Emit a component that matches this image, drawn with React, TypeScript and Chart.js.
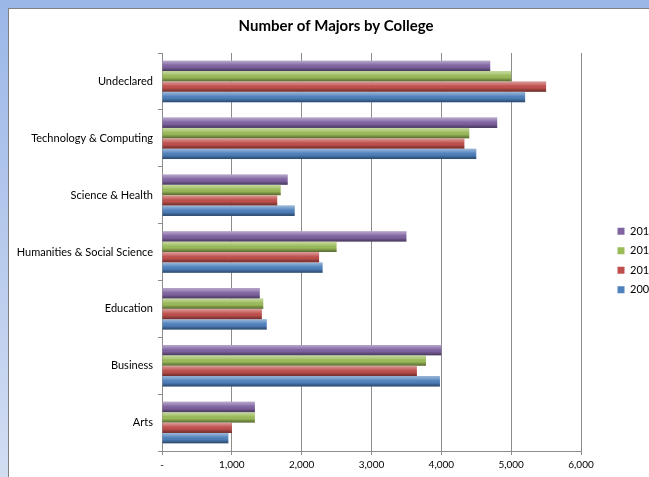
import React, { useEffect, useRef } from "react";
import { Chart, registerables } from "chart.js";

Chart.register(...registerables);

const colleges = [
  "Undeclared",
  "Technology & Computing",
  "Science & Health",
  "Humanities & Social Science",
  "Education",
  "Business",
  "Arts",
];
const years = ["2012", "2011", "2010", "2009"];
const majors2012 = [4700, 4800, 1800, 3500, 1400, 4000, 1330];
const majors2011 = [5000, 4400, 1700, 2500, 1450, 3780, 1330];
const majors2010 = [5500, 4330, 1650, 2250, 1430, 3650, 1000];
const majors2009 = [5200, 4500, 1900, 2300, 1500, 3980, 950];
const seriesColors = ["#8064A2", "#9BBB59", "#C0504D", "#4F81BD"];
const xTicksMax = 6000;
const xTickStep = 1000;

const FONT = "Lato, 'Liberation Sans', sans-serif";

const shadePlugin = {
  id: "barShade",
  afterDatasetsDraw(chart: any) {
    const ctx = chart.ctx;
    chart.data.datasets.forEach((_: any, di: number) => {
      const meta = chart.getDatasetMeta(di);
      if (meta.hidden) return;
      meta.data.forEach((el: any) => {
        const { x, y, base, height } = el.getProps(["x", "y", "base", "height"], true);
        const top = y - height / 2;
        const g = ctx.createLinearGradient(0, top, 0, top + height);
        g.addColorStop(0, "rgba(255,255,255,0.45)");
        g.addColorStop(0.35, "rgba(255,255,255,0.12)");
        g.addColorStop(0.6, "rgba(0,0,0,0)");
        g.addColorStop(1, "rgba(0,0,0,0.45)");
        ctx.save();
        ctx.fillStyle = g;
        ctx.fillRect(Math.min(base, x), top, Math.abs(x - base), height);
        ctx.restore();
      });
    });
  },
};

export default function App() {
  const ref = useRef<HTMLCanvasElement>(null);

  useEffect(() => {
    if (!ref.current) return;
    const values = [majors2012, majors2011, majors2010, majors2009];
    const chart = new Chart(ref.current, {
      type: "bar",
      data: {
        labels: colleges,
        datasets: years.map((yr, i) => ({
          label: yr,
          data: values[i],
          xAxisID: "x",
          yAxisID: "y",
          backgroundColor: seriesColors[i],
          borderWidth: 0,
          barPercentage: 1,
          categoryPercentage: 0.73,
        })),
      },
      options: {
        indexAxis: "y",
        responsive: false,
        animation: false,
        layout: { padding: { top: 0, left: 0, right: 0, bottom: 0 } },
        plugins: {
          title: {
            display: true,
            text: "Number of Majors by College",
            color: "#000",
            font: { family: FONT, size: 15, weight: "bold" },
            padding: { top: 8, bottom: 18 },
          },
          legend: {
            position: "right",
            maxWidth: 54,
            title: {
              display: true,
              text: " ",
              font: { family: FONT, size: 10 },
              padding: { top: 11.5, bottom: 11.5 },
            },
            labels: {
              boxWidth: 7,
              boxHeight: 7,
              padding: 8.5,
              color: "#000",
              font: { family: FONT, size: 11 },
            },
          },
          tooltip: { enabled: false },
        },
        scales: {
          x: {
            min: 0,
            max: xTicksMax,
            ticks: {
              stepSize: xTickStep,
              color: "#000",
              padding: 4,
              font: { family: FONT, size: 10 },
              callback: (v: any) => (Number(v) === 0 ? "-" : Number(v).toLocaleString("en-US")),
            },
            grid: { color: "#8c8c8c", tickLength: 4, tickColor: "#8c8c8c" },
            border: { color: "#8c8c8c" },
            afterFit: (scale: any) => {
              scale.height = 26;
            },
          },
          y: {
            ticks: {
              color: "#000",
              padding: 5,
              font: { family: FONT, size: 11 },
            },
            grid: {
              drawOnChartArea: false,
              tickLength: 4,
              tickColor: "#8c8c8c",
            },
            border: { color: "#8c8c8c" },
            afterFit: (scale: any) => {
              scale.width = 153;
            },
          },
          gap: {
            type: "linear",
            axis: "y",
            position: "right",
            display: true,
            ticks: { display: false },
            grid: { display: false },
            border: { display: false },
            afterFit: (scale: any) => {
              scale.width = 28;
            },
          },
        },
      },
      plugins: [shadePlugin],
    });
    return () => chart.destroy();
  }, []);

  return (
    <div
      style={{
        position: "fixed",
        left: 0,
        top: 0,
        width: 649,
        height: 477,
        overflow: "hidden",
        background: "linear-gradient(#9BB7E8, #D2DDF2)",
      }}
    >
      <div
        style={{
          position: "absolute",
          left: 8,
          top: 8,
          width: 700,
          height: 500,
          background: "#fff",
          borderTop: "1px solid #808080",
          borderLeft: "1px solid #808080",
        }}
      >
        <canvas ref={ref} width={654} height={468} style={{ display: "block" }} />
      </div>
    </div>
  );
}
